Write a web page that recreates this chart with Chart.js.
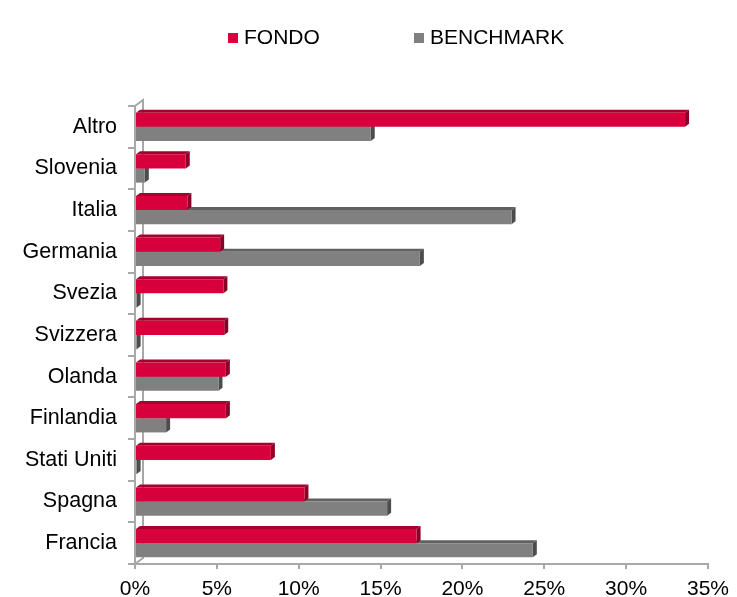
<!DOCTYPE html>
<html>
<head>
<meta charset="utf-8">
<script src="https://cdn.jsdelivr.net/npm/chart.js@4/dist/chart.umd.min.js"></script>
<style>
  html, body { margin: 0; padding: 0; background: #fff; }
  #wrap { width: 737px; height: 597px; }
</style>
</head>
<body>
<div id="wrap"><canvas id="chart" width="737" height="597"></canvas></div>
<script>
// dati (%)
const categories = ["Altro", "Slovenia", "Italia", "Germania", "Svezia", "Svizzera", "Olanda", "Finlandia", "Stati Uniti", "Spagna", "Francia"];
const fondo = [33.6, 3.1, 3.2, 5.2, 5.4, 5.45, 5.55, 5.55, 8.3, 10.35, 17.2];
const benchmark = [14.4, 0.6, 23.0, 17.4, 0.1, 0.1, 5.1, 1.9, 0.1, 15.4, 24.3];
const xTicks = [0, 5, 10, 15, 20, 25, 30, 35];

const DX = 4, DY = 3;          // profondità barre 3D
const WALL_DX = 8, WALL_DY = 6; // profondità parete

Chart.defaults.font.family = "'Liberation Sans', Arial, sans-serif";
Chart.defaults.color = "#000";

// facce superiori e laterali delle barre + parete di fondo
const bar3d = {
    id: "bar3d",
    beforeDatasetsDraw(chart) {
        const ctx = chart.ctx;
        const a = chart.chartArea;
        ctx.save();
        ctx.strokeStyle = "#a8a8a8";
        ctx.lineWidth = 2;
        ctx.beginPath();
        ctx.moveTo(a.left, a.top);
        ctx.lineTo(a.left + WALL_DX, a.top - WALL_DY);
        ctx.lineTo(a.left + WALL_DX, a.bottom - WALL_DY);
        ctx.lineTo(a.left, a.bottom);
        ctx.stroke();
        for (let d = chart.data.datasets.length - 1; d >= 0; d--) {
            const ds = chart.data.datasets[d];
            chart.getDatasetMeta(d).data.forEach(el => {
                const p = el.getProps(["x", "y", "base", "height"], true);
                const top = p.y - p.height / 2, bottom = p.y + p.height / 2;
                ctx.fillStyle = ds.topColor;
                ctx.beginPath();
                ctx.moveTo(p.base, top);
                ctx.lineTo(p.base + DX, top - DY);
                ctx.lineTo(p.x + DX, top - DY);
                ctx.lineTo(p.x, top);
                ctx.closePath();
                ctx.fill();
                ctx.fillStyle = ds.sideColor;
                ctx.beginPath();
                ctx.moveTo(p.x, top);
                ctx.lineTo(p.x + DX, top - DY);
                ctx.lineTo(p.x + DX, bottom - DY);
                ctx.lineTo(p.x, bottom);
                ctx.closePath();
                ctx.fill();
            });
        }
        ctx.restore();
    }
};

// legenda in alto, voci distanziate come nell'originale
const topLegend = {
    id: "topLegend",
    afterDraw(chart) {
        const ctx = chart.ctx;
        const xs = [228, 414];
        ctx.save();
        ctx.font = "21px 'Liberation Sans', Arial, sans-serif";
        ctx.textBaseline = "middle";
        chart.data.datasets.forEach((ds, i) => {
            ctx.fillStyle = ds.backgroundColor;
            ctx.fillRect(xs[i], 33, 10, 10);
            ctx.fillStyle = "#000";
            ctx.fillText(ds.label, xs[i] + 16, 38);
        });
        ctx.restore();
    }
};

new Chart(document.getElementById("chart"), {
    type: "bar",
    data: {
        labels: categories,
        datasets: [{
            label: "FONDO",
            data: fondo,
            backgroundColor: "#d7003c",
            topColor: "#a5002e",
            sideColor: "#8a0026"
        }, {
            label: "BENCHMARK",
            data: benchmark,
            backgroundColor: "#808080",
            topColor: "#606060",
            sideColor: "#4c4c4c"
        }]
    },
    options: {
        indexAxis: "y",
        responsive: false,
        animation: false,
        categoryPercentage: 0.68,
        barPercentage: 1.0,
        layout: { padding: { top: 106, right: 27, left: 0, bottom: 0 } },
        plugins: {
            legend: { display: false },
            tooltip: { enabled: false }
        },
        scales: {
            x: {
                min: 0,
                max: 35,
                afterBuildTicks: scale => { scale.ticks = xTicks.map(v => ({ value: v })); },
                afterFit: scale => { scale.height = 33; },
                ticks: {
                    font: { size: 21 },
                    padding: 8,
                    callback: v => v + "%"
                },
                grid: { drawOnChartArea: false, tickLength: 5, color: "#a8a8a8", lineWidth: 2 },
                border: { color: "#a8a8a8", width: 2 }
            },
            y: {
                afterFit: scale => { scale.width = 135; },
                ticks: { font: { size: 21.5 }, padding: 11 },
                grid: { drawOnChartArea: false, offset: true, tickLength: 7, color: "#a8a8a8", lineWidth: 2 },
                border: { color: "#a8a8a8", width: 2 }
            }
        }
    },
    plugins: [bar3d, topLegend]
});
</script>
</body>
</html>
